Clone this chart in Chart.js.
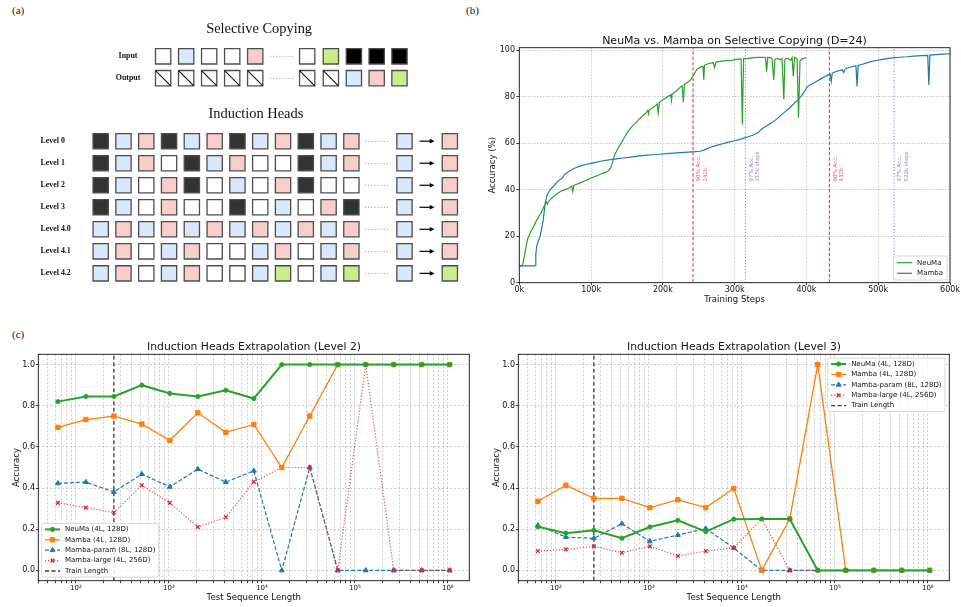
<!DOCTYPE html>
<html><head><meta charset="utf-8">
<script src="https://cdn.jsdelivr.net/npm/chart.js@4.4.1/dist/chart.umd.min.js"></script>
<style>
html,body{margin:0;padding:0;background:#fff;overflow:hidden;width:961px;height:607px;position:relative;}
canvas{position:absolute;}
.plab{position:absolute;font-family:'Liberation Serif',serif;font-size:11px;color:#111;line-height:11px;}
</style></head><body>
<div class="plab" style="left:12px;top:5px">(a)</div>
<div class="plab" style="left:466px;top:5px">(b)</div>
<div class="plab" style="left:12px;top:329px">(c)</div>
<canvas id="ca" width="480" height="310" style="left:0;top:0;width:480px;height:310px"></canvas>
<canvas id="cb" width="509" height="310" style="left:480px;top:0;width:509px;height:310px"></canvas>
<canvas id="c2" width="508" height="287" style="left:0;top:320px;width:508px;height:287px"></canvas>
<canvas id="c3" width="508" height="287" style="left:480px;top:320px;width:508px;height:287px"></canvas>
<script>
// ---------------- Panel (a) data ----------------
const copyRows = ['Input', 'Output'];
const copyInput  = ['W','B','W','W','P','W','G','K','K','K'];
const copyOutput = ['X','X','X','X','X','X','X','B','P','G'];
const copyCols = [2.74, 3.75, 4.76, 5.77, 6.78, 9.06, 10.10, 11.11, 12.11, 13.11];
const copyRowPos = [-3.85, -2.86];
const copyEllipsisCol = 7.93;
const levelNames = ['Level 0','Level 1','Level 2','Level 3','Level 4.0','Level 4.1','Level 4.2'];
const levelSeqs = ['DBPDBPDBPDBP','DBPWDBPWWDBP','DBWPDWBWPDWW','DBWPWWDWBWPD','BPBPBPBPBPBP','BPWBPWWBPWBP','BPWBPWWBGWBG'];
const levelQuery = ['B','B','B','B','B','B','B'];
const levelAnswer = ['P','P','P','P','P','P','G'];
const queryCol = 13.33, answerCol = 15.32, ellipsisCol = 12.1, arrowFrom = 13.99, arrowTo = 14.65;
const cellFill = {W:'#ffffff', B:'#dae8fc', P:'#f8cecc', G:'#cdeb8b', K:'#000000', D:'#333333', X:'#ffffff'};

// ---------------- Panel (b) data (steps in thousands, accuracy %) ----------------
const neumaSteps = [0,4,6,8,10,12,14,16,18,20,22,24,26,28,30,32,34,36,38,39,41,44,47,50,54,58,62,66,70,73,74.5,76,80,85,90,95,100,105,110,115,120,124,127,129,131,133,136,139,142,146,150,154,158,162,166,170,174,177,179,180,181,185,189,192,193.5,195,199,203,207,211,212,213,217,221,225,227,228.5,230,234,238,241,244,247,250,254,256,257,258,262,266,270,272,274,280,285,290,295,300,305,309,310.7,312.5,318,325,332,340,343,344.5,346,350,352,354.5,356,360,364,366,368.5,370,374,378,380,381.7,383.5,387,389,391,394,397,400];
const neumaAcc   = [7.2,7.2,9.5,13,16.5,19.2,20.5,22,23,24.2,25.5,26.8,27.6,29,29.8,31.2,32.5,33.6,34.6,33.8,35,36,36.8,37.6,38.6,39.3,39.8,40.3,40.8,41.5,39.2,41.8,42.3,42.9,43.6,44.3,45,45.6,46.2,46.9,47.4,48,49.2,50.8,53,55,56.8,58.6,60,62.2,64.3,66,67.5,68.6,70,71.2,72.3,73.1,74,72.6,74.2,75,76,76.8,72.9,77.4,78.4,79.2,80,80.8,78.3,81.2,82,83,84.2,84.6,77.6,85.2,86,87,88.4,89.8,91.5,92.3,93,92.8,87.2,93.5,94,94.3,94.6,92.5,94.8,95.1,95.3,95.6,95.5,95.9,96.1,96.2,68,96.3,96.4,96.6,96.8,96.9,96.8,90.7,96.8,96.7,96.2,87.1,96,96.4,95.8,96.3,78.8,96.1,96.5,95.6,96.8,88.8,96.9,96.2,70.9,95.3,96.2,96.5,96.6];
const mambaSteps = [0,21,22,23,24.2,26,28.8,31,33.4,36,38.5,41,45,50,53,56,60,63,66,70,75,80,87,94,100,108,115,125,135,145,155,165,175,185,195,205,215,225,235,245,252,257,262,268,275,282,290,300,310,318,326,333,336,339,345,352,358,364,370,376,382,388,394,398,401,405,410,415,420,425,430,433,434.5,436,441,446,450,452,454,458,462,466,469,470.5,472,478,484,490,497,504,512,520,530,540,550,560,569,570.5,572,580,590,600];
const mambaAcc   = [7.2,7.2,7.4,12,15.5,17.5,19.8,23,27,34,37.5,39,40.6,42.3,43.3,44.2,45,46.5,47.2,48,48.9,49.6,50.3,50.9,51.3,51.8,52.3,52.8,53.2,53.6,54,54.4,54.7,55,55.2,55.5,55.7,55.9,56.1,56.3,56.5,57,57.6,58.4,59,59.6,60.3,61,61.8,62.6,63.5,64.5,65.6,66.4,67.5,68.8,70.2,71.8,73.4,75,76.8,78.6,80.6,82.5,84.2,85,85.8,86.7,87.6,88.4,89.2,89.6,86.5,90.1,90.7,91.2,91.5,90.3,91.9,92.4,92.7,93,93.2,84.3,93.4,93.9,94.5,95,95.5,95.9,96.3,96.6,96.9,97.1,97.4,97.6,97.7,85,97.8,98,98.2,98.4];
const markerSteps = [242, 315, 432, 522];
const markerLabels = [['90% Acc.','242k'], ['97% Acc.','315k steps'], ['90% Acc.','432k'], ['97% Acc.','522k steps']];
const markerKinds = ['red','purple','red','purple'];
const stepTicks = [0,100,200,300,400,500,600];
const accTicks = [0,20,40,60,80,100];
const labelAnchorAcc = 43.5;

// ---------------- Panel (c) data ----------------
const seqLens = [64,128,256,512,1024,2048,4096,8192,16384,32768,65536,131072,262144,524288,1048576];
const trainLength = 256;
const l2NeuMa      = [0.82,0.845,0.845,0.90,0.86,0.845,0.875,0.835,1,1,1,1,1,1,1];
const l2Mamba      = [0.695,0.733,0.75,0.711,0.632,0.766,0.671,0.709,0.5,0.75,1,1,1,1,1];
const l2MambaParam = [0.423,0.429,0.381,0.468,0.406,0.492,0.429,0.484,0,0.5,0,0,0,0,0];
const l2MambaLarge = [0.328,0.305,0.281,0.414,0.328,0.211,0.258,0.43,0.5,0.5,0,1,0,0,0];
const l3NeuMa      = [0.212,0.181,0.195,0.156,0.211,0.243,0.188,0.249,0.25,0.25,0,0,0,0,0];
const l3Mamba      = [0.336,0.414,0.35,0.35,0.305,0.343,0.305,0.398,0,0.25,1,0,0,0,0];
const l3MambaParam = [0.219,0.162,0.156,0.227,0.141,0.172,0.203,0.109,0,0,0,0,0,0,0];
const l3MambaLarge = [0.094,0.102,0.117,0.086,0.117,0.070,0.094,0.109,0.25,0,0,0,0,0,0];
const accTicksC = [0,0.2,0.4,0.6,0.8,1.0];

// ---------------- setup ----------------
Chart.defaults.font.family = "'DejaVu Sans', sans-serif";
Chart.defaults.color = '#111';
Chart.defaults.animation = false;
Chart.defaults.events = [];
Chart.defaults.plugins.legend.display = false;
Chart.defaults.plugins.tooltip.enabled = false;

function drawMarker(ctx, style, x, y, r, fill, stroke, bw) {
  ctx.save(); ctx.fillStyle = fill; ctx.strokeStyle = stroke; ctx.lineWidth = bw; ctx.setLineDash([]);
  ctx.beginPath();
  if (style === 'circle') { ctx.arc(x, y, r, 0, 2*Math.PI); ctx.fill(); ctx.stroke(); }
  else if (style === 'rect') { const s = r*Math.SQRT1_2; ctx.rect(x-s, y-s, 2*s, 2*s); ctx.fill(); ctx.stroke(); }
  else if (style === 'triangle') { ctx.moveTo(x, y-r); ctx.lineTo(x+0.866*r, y+0.5*r); ctx.lineTo(x-0.866*r, y+0.5*r); ctx.closePath(); ctx.fill(); ctx.stroke(); }
  else if (style === 'crossRot') { const o = r*Math.SQRT1_2; ctx.moveTo(x-o,y-o); ctx.lineTo(x+o,y+o); ctx.moveTo(x+o,y-o); ctx.lineTo(x-o,y+o); ctx.stroke(); }
  ctx.restore();
}

const spines = { id: 'spines', afterDraw(chart) {
  const {ctx, chartArea: a} = chart;
  ctx.save(); ctx.strokeStyle = '#111'; ctx.lineWidth = 0.9; ctx.setLineDash([]);
  ctx.strokeRect(a.left, a.top, a.right - a.left, a.bottom - a.top); ctx.restore();
}};

const mplLegend = { id: 'mplLegend', afterDraw(chart, args, o) {
  if (!o || !o.show) return;
  const {ctx, chartArea: a} = chart;
  const items = chart.data.datasets.filter(d => !d.noLegend);
  ctx.save();
  ctx.font = o.fontSize + "px 'DejaVu Sans'";
  const tw = Math.max(...items.map(d => ctx.measureText(d.label).width));
  const w = o.padL + o.handle + o.gap + tw + o.padR;
  const h = o.padT*2 + o.row*(items.length - 1);
  const bx = o.loc.includes('left') ? a.left + o.marginX : a.right - o.marginX - w;
  const by = o.loc.includes('upper') ? a.top + o.marginY : a.bottom - o.marginY - h;
  ctx.beginPath();
  if (ctx.roundRect) ctx.roundRect(bx, by, w, h, 2); else ctx.rect(bx, by, w, h);
  ctx.fillStyle = 'rgba(255,255,255,0.85)'; ctx.fill();
  ctx.strokeStyle = '#cfcfcf'; ctx.lineWidth = 0.8; ctx.stroke();
  items.forEach((d, i) => {
    const cy = by + o.padT + i*o.row;
    const x0 = bx + o.padL, x1 = x0 + o.handle;
    ctx.strokeStyle = d.borderColor; ctx.lineWidth = d.borderWidth; ctx.setLineDash(d.borderDash || []);
    ctx.beginPath(); ctx.moveTo(x0, cy); ctx.lineTo(x1, cy); ctx.stroke();
    ctx.setLineDash([]);
    if (d.pointRadius > 0) drawMarker(ctx, d.pointStyle, (x0+x1)/2, cy, d.pointRadius, d.pointBackgroundColor || d.borderColor, d.pointBorderColor || d.borderColor, d.pointBorderWidth || 1);
    ctx.fillStyle = '#111'; ctx.textAlign = 'left'; ctx.textBaseline = 'middle';
    ctx.fillText(d.label, x1 + o.gap, cy);
  });
  ctx.restore();
}};

// ---------------- Panel (a) ----------------
const cellPts = [];
copyInput.forEach((c, i) => cellPts.push({x: copyCols[i], y: copyRowPos[0], c}));
copyOutput.forEach((c, i) => cellPts.push({x: copyCols[i], y: copyRowPos[1], c}));
levelSeqs.forEach((s, r) => {
  [...s].forEach((c, i) => cellPts.push({x: i, y: r, c}));
  cellPts.push({x: queryCol, y: r, c: levelQuery[r]});
  cellPts.push({x: answerCol, y: r, c: levelAnswer[r]});
});
const diagPts = cellPts.filter(p => p.c === 'X');

const diagramText = { id: 'diagramText', afterDatasetsDraw(chart) {
  const {ctx} = chart; const X = chart.scales.x, Y = chart.scales.y;
  const px = v => X.getPixelForValue(v), py = v => Y.getPixelForValue(v);
  ctx.save();
  ctx.fillStyle = '#111'; ctx.textAlign = 'center'; ctx.textBaseline = 'middle';
  ctx.font = "14.4px 'Liberation Serif'";
  ctx.fillText('Selective Copying', px(6.95), py(-5.09));
  ctx.fillText('Induction Heads', px(6.81), py(-1.23));
  ctx.font = "bold 7.9px 'Liberation Serif'";
  copyRows.forEach((t, i) => ctx.fillText(t, px(1.2), py(copyRowPos[i])));
  ctx.textAlign = 'left';
  levelNames.forEach((t, r) => ctx.fillText(t, px(-2.64), py(r)));
  const dots = (cx, cy) => { ctx.fillStyle = '#777'; for (let k = 0; k < 8; k++) { ctx.beginPath(); ctx.arc(cx - 10.85 + k*3.1, cy, 0.5, 0, 2*Math.PI); ctx.fill(); } };
  copyRowPos.forEach(r => dots(px(copyEllipsisCol), py(r)));
  levelNames.forEach((_, r) => dots(px(ellipsisCol), py(r)));
  ctx.strokeStyle = '#000'; ctx.fillStyle = '#000'; ctx.lineWidth = 1.2;
  levelNames.forEach((_, r) => {
    const x0 = px(arrowFrom), x1 = px(arrowTo), y = py(r);
    ctx.beginPath(); ctx.moveTo(x0, y); ctx.lineTo(x1 - 3, y); ctx.stroke();
    ctx.beginPath(); ctx.moveTo(x1, y); ctx.lineTo(x1 - 4.8, y - 2.3); ctx.lineTo(x1 - 4.8, y + 2.3); ctx.closePath(); ctx.fill();
  });
  ctx.restore();
}};

new Chart(document.getElementById('ca'), {
  type: 'scatter',
  data: { datasets: [
    { data: cellPts, order: 1, pointStyle: 'rect', pointRadius: 10.8, pointBorderWidth: 1.3, pointBorderColor: '#4d4d4d',
      pointBackgroundColor: c => (c.raw ? cellFill[c.raw.c] : '#fff'), clip: false },
    { data: diagPts, order: 0, pointStyle: 'line', pointRotation: 45, pointRadius: 10.8, pointBorderWidth: 1.1, pointBorderColor: '#111', clip: false }
  ]},
  options: { responsive: false, layout: {padding: 0},
    scales: { x: {type: 'linear', min: -3.8875, max: 16.1125, display: false},
              y: {type: 'linear', min: -5.858, max: 7.113, reverse: true, display: false} } },
  plugins: [diagramText]
});

// ---------------- Panel (b) ----------------
const redC = 'rgba(214,39,40,0.85)', purC = 'rgba(148,103,189,0.85)';
const markerTextColors = markerKinds.map(k => k === 'red' ? 'rgba(214,39,40,0.75)' : 'rgba(148,103,189,0.85)');
const stepMarkerLabels = { id: 'stepMarkerLabels', afterDatasetsDraw(chart) {
  const {ctx} = chart; const X = chart.scales.x, Y = chart.scales.y;
  ctx.save(); ctx.font = "5.5px 'DejaVu Sans'"; ctx.textAlign = 'left'; ctx.textBaseline = 'middle';
  markerSteps.forEach((s, i) => {
    const x = X.getPixelForValue(s), y = Y.getPixelForValue(labelAnchorAcc);
    ctx.fillStyle = markerTextColors[i];
    markerLabels[i].forEach((line, j) => {
      ctx.save(); ctx.translate(x + 6 + j*6.3, y); ctx.rotate(-Math.PI/2); ctx.fillText(line, 0, 0); ctx.restore();
    });
  });
  ctx.restore();
}};
const zip = (xs, ys) => xs.map((x, i) => ({x, y: ys[i]}));
const markerSets = markerSteps.map((s, i) => ({
  label: 'm' + i, noLegend: true, data: [{x: s, y: 0}, {x: s, y: 101}],
  borderColor: markerKinds[i] === 'red' ? redC : purC, borderWidth: 1.1,
  borderDash: markerKinds[i] === 'red' ? [3.5, 1.8] : [1.1, 2], pointRadius: 0
}));
const dummyRight = w => ({ type: 'linear', position: 'right', display: true, ticks: {display: false},
  grid: {display: false, drawTicks: false}, border: {display: false}, afterFit: s => { s.width = w; } });

new Chart(document.getElementById('cb'), {
  type: 'line',
  data: { datasets: [
    { label: 'NeuMa', data: zip(neumaSteps, neumaAcc), borderColor: '#2ca02c', borderWidth: 1.2, pointRadius: 0, tension: 0 },
    { label: 'Mamba', data: zip(mambaSteps, mambaAcc), borderColor: '#1f77b4', borderWidth: 1.2, pointRadius: 0, tension: 0 },
    ...markerSets
  ]},
  options: { responsive: false, layout: {padding: 0},
    plugins: {
      title: { display: true, text: 'NeuMa vs. Mamba on Selective Copying (D=24)', color: '#111',
               font: {size: 11, weight: 'normal'}, padding: {top: 34.1, bottom: 0.4} },
      mplLegend: { show: true, loc: 'lower right', marginX: 3, marginY: 2.7, padL: 3.7, handle: 15, gap: 5, padR: 4, padT: 6.7, row: 10.6, fontSize: 7 }
    },
    scales: {
      x: { type: 'linear', min: 0, max: 600,
           afterBuildTicks: s => { s.ticks = stepTicks.map(v => ({value: v})); },
           afterFit: s => { s.height = 27.3; },
           ticks: { callback: v => v + 'k', font: {size: 8}, padding: 0, maxRotation: 0, autoSkip: false, color: '#111' },
           grid: { color: 'rgba(150,150,150,0.65)', lineWidth: 0.8, tickColor: '#111', tickLength: 2.5, tickWidth: 0.8, tickBorderDash: [] },
           border: { display: false, dash: [1.5, 1.5] },
           title: { display: true, text: 'Training Steps', font: {size: 8.6}, padding: {top: 0, bottom: 4.84}, color: '#111' } },
      y: { type: 'linear', min: 0, max: 101,
           afterBuildTicks: s => { s.ticks = accTicks.map(v => ({value: v})); },
           afterFit: s => { s.width = 39.3; },
           ticks: { font: {size: 8}, padding: 1.3, color: '#111' },
           grid: { color: 'rgba(150,150,150,0.65)', lineWidth: 0.8, tickColor: '#111', tickLength: 3, tickWidth: 0.8, tickBorderDash: [] },
           border: { display: false, dash: [1.5, 1.5] },
           title: { display: true, text: 'Accuracy (%)', font: {size: 8.6}, padding: {top: 8.1, bottom: 0}, color: '#111' } },
      yr: dummyRight(39)
    }
  },
  plugins: [stepMarkerLabels, spines, mplLegend]
});

// ---------------- Panel (c) ----------------
const sup = {1:'¹', 2:'²', 3:'³', 4:'⁴', 5:'⁵', 6:'⁶'};
const logMin = 39.4, logMax = 1.703e6;
const logTicks = [];
for (let e = 1; e <= 6; e++) for (let m = 1; m <= 9; m++) { const v = m * Math.pow(10, e); if (v >= logMin && v <= logMax) logTicks.push(v); }
const powLabel = v => { const e = Math.log10(v); const r = Math.round(e); return Math.abs(e - r) < 1e-9 ? '10' + sup[r] : ''; };

function extrapChart(id, title, vals, legendOpts) {
  const [neu, mam, par, lar] = vals;
  return new Chart(document.getElementById(id), {
    type: 'line',
    data: { datasets: [
      { label: 'NeuMa (4L, 128D)', data: zip(seqLens, neu), order: 0, borderColor: '#2ca02c', borderWidth: 2,
        pointStyle: 'circle', pointRadius: 2.1, pointBackgroundColor: '#2ca02c', pointBorderColor: '#2ca02c', pointBorderWidth: 1, tension: 0 },
      { label: 'Mamba (4L, 128D)', data: zip(seqLens, mam), order: 1, borderColor: '#ff7f0e', borderWidth: 1.3,
        pointStyle: 'rect', pointRadius: 3.1, pointBackgroundColor: '#ff7f0e', pointBorderColor: '#ff7f0e', pointBorderWidth: 1, tension: 0 },
      { label: 'Mamba-param (8L, 128D)', data: zip(seqLens, par), order: 3, borderColor: '#1f77b4', borderWidth: 1.2, borderDash: [4, 2],
        pointStyle: 'triangle', pointRadius: 2.8, pointBackgroundColor: '#1f77b4', pointBorderColor: '#1f77b4', pointBorderWidth: 1, tension: 0 },
      { label: 'Mamba-large (4L, 256D)', data: zip(seqLens, lar), order: 2, borderColor: 'rgba(214,39,40,0.8)', borderWidth: 1.2, borderDash: [1.2, 1.8],
        pointStyle: 'crossRot', pointRadius: 2.6, pointBackgroundColor: '#d62728', pointBorderColor: '#d62728', pointBorderWidth: 1.3, tension: 0 },
      { label: 'Train Length', data: [{x: trainLength, y: -0.05}, {x: trainLength, y: 1.05}], order: 4, borderColor: '#3a3a3a',
        borderWidth: 1.3, borderDash: [4, 2.5], pointRadius: 0 }
    ]},
    options: { responsive: false, layout: {padding: 0},
      plugins: {
        title: { display: true, text: title, color: '#111', font: {size: 10.8, weight: 'normal'}, padding: {top: 20.5, bottom: 0.84} },
        mplLegend: legendOpts
      },
      scales: {
        x: { type: 'logarithmic', min: logMin, max: logMax,
             afterBuildTicks: s => { s.ticks = logTicks.map(v => ({value: v, major: powLabel(v) !== ''})); },
             afterFit: s => { s.height = 26.3; },
             ticks: { callback: v => powLabel(v), font: {size: 7}, padding: 0.6, maxRotation: 0, minRotation: 0, autoSkip: false, color: '#111' },
             grid: { color: 'rgba(165,165,165,0.7)', lineWidth: 0.8, tickColor: '#111', tickLength: 2.5, tickWidth: 0.8, tickBorderDash: [] },
             border: { display: false, dash: [2, 2] },
             title: { display: true, text: 'Test Sequence Length', font: {size: 8.6}, padding: {top: 0, bottom: 3.84}, color: '#111' } },
        y: { type: 'linear', min: -0.05, max: 1.05,
             afterBuildTicks: s => { s.ticks = accTicksC.map(v => ({value: v})); },
             afterFit: s => { s.width = 38.3; },
             ticks: { callback: v => Number(v).toFixed(1), font: {size: 8}, padding: 0.8, color: '#111' },
             grid: { color: 'rgba(165,165,165,0.7)', lineWidth: 0.8, tickColor: '#111', tickLength: 2.5, tickWidth: 0.8, tickBorderDash: [] },
             border: { display: false, dash: [2, 2] },
             title: { display: true, text: 'Accuracy', font: {size: 8.6}, padding: {top: 11.8, bottom: 0}, color: '#111' } },
        yr: dummyRight(38.7)
      }
    },
    plugins: [spines, mplLegend]
  });
}
const legBase = { show: true, padL: 3.3, handle: 15, gap: 5, padR: 3.5, padT: 6, row: 10.4, fontSize: 7 };
extrapChart('c2', 'Induction Heads Extrapolation (Level 2)', [l2NeuMa, l2Mamba, l2MambaParam, l2MambaLarge],
  Object.assign({}, legBase, {loc: 'lower left', marginX: 3.4, marginY: 3.7}));
extrapChart('c3', 'Induction Heads Extrapolation (Level 3)', [l3NeuMa, l3Mamba, l3MambaParam, l3MambaLarge],
  Object.assign({}, legBase, {loc: 'upper right', marginX: 4.3, marginY: 3.7}));
</script>
</body></html>
